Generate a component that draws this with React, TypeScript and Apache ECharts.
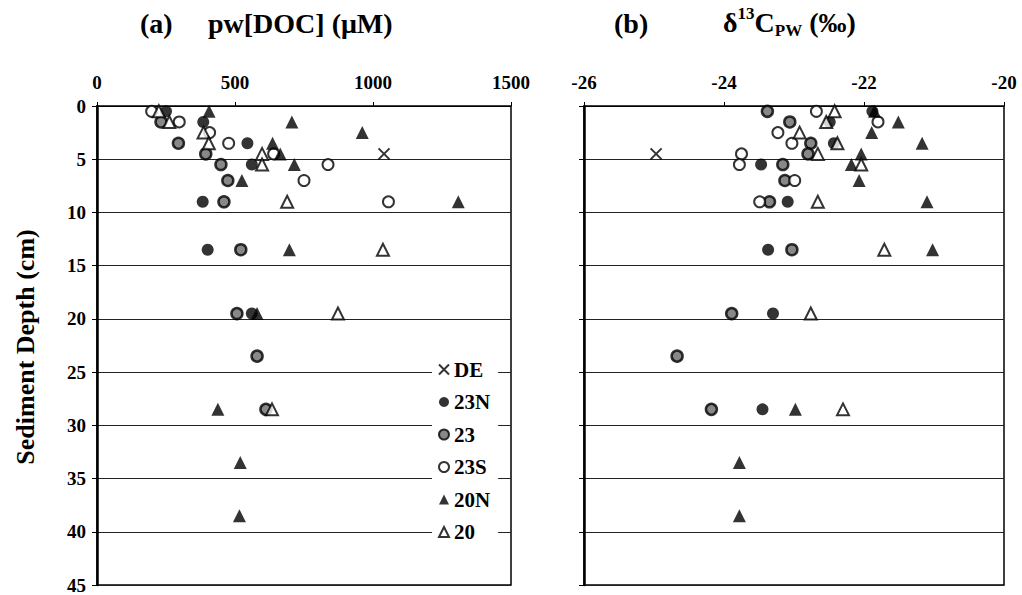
import React, { useEffect, useRef } from "react";
import * as echarts from "echarts";

// ---------- data ----------
const seriesNames = ["DE", "23N", "23", "23S", "20N", "20"];

// panel (a): pw[DOC] (µM) vs depth (cm)
const docDE = [[1040, 4.5]];
const doc23N = [[250, 0.5], [385, 1.5], [545, 3.5], [561, 5.5], [383, 9], [401, 13.5], [561, 19.5]];
const doc23 = [[232, 1.5], [295, 3.5], [394, 4.5], [449, 5.5], [474, 7], [460, 9], [521, 13.5], [507, 19.5], [580, 23.5], [612, 28.5]];
const doc23S = [[198, 0.5], [298, 1.5], [408, 2.5], [477, 3.5], [640, 4.5], [837, 5.5], [750, 7], [1056, 9]];
const doc20N = [[406, 0.5], [706, 1.5], [961, 2.5], [636, 3.5], [664, 4.5], [715, 5.5], [525, 7], [1309, 9], [697, 13.5], [580, 19.5], [438, 28.5], [519, 33.5], [516, 38.5]];
const doc20 = [[224, 0.5], [262, 1.5], [386, 2.5], [405, 3.5], [598, 4.5], [598, 5.5], [689, 9], [1036, 13.5], [873, 19.5], [634, 28.5]];

// panel (b): δ13C_PW (‰) vs depth (cm)
const d13DE = [[-24.97, 4.5]];
const d13_23N = [[-21.88, 0.5], [-22.49, 1.5], [-22.43, 3.5], [-23.47, 5.5], [-23.09, 9], [-23.37, 13.5], [-23.3, 19.5], [-23.45, 28.5]];
const d13_23 = [[-23.38, 0.5], [-23.06, 1.5], [-22.76, 3.5], [-22.8, 4.5], [-23.16, 5.5], [-23.13, 7], [-23.35, 9], [-23.03, 13.5], [-23.89, 19.5], [-24.67, 23.5], [-24.18, 28.5]];
const d13_23S = [[-22.68, 0.5], [-21.8, 1.5], [-23.23, 2.5], [-23.03, 3.5], [-23.75, 4.5], [-23.78, 5.5], [-22.99, 7], [-23.49, 9]];
const d13_20N = [[-21.85, 0.5], [-21.51, 1.5], [-21.89, 2.5], [-21.17, 3.5], [-22.04, 4.5], [-22.18, 5.5], [-22.07, 7], [-21.1, 9], [-21.02, 13.5], [-22.98, 28.5], [-23.78, 33.5], [-23.78, 38.5]];
const d13_20 = [[-22.42, 0.5], [-22.54, 1.5], [-22.92, 2.5], [-22.38, 3.5], [-22.66, 4.5], [-22.04, 5.5], [-22.66, 9], [-21.71, 13.5], [-22.76, 19.5], [-22.3, 28.5]];

const panelAData = [docDE, doc23N, doc23, doc23S, doc20N, doc20];
const panelBData = [d13DE, d13_23N, d13_23, d13_23S, d13_20N, d13_20];

// tick labels
const docTicks = [0, 500, 1000, 1500];
const d13Ticks = [-26, -24, -22, -20];
const depthTicks = [0, 5, 10, 15, 20, 25, 30, 35, 40, 45];

const docAxis = { min: 0, max: 1500, interval: 500 };
const d13Axis = { min: -26, max: -20, interval: 2 };
const depthAxis = { min: 0, max: 45, interval: 5 };

// ---------- styles ----------
const FONT = "Liberation Serif";

const markerStyles: Record<string, any> = {
  DE: { symbol: "path://M0,0L10,10M10,0L0,10", symbolSize: 11, itemStyle: { color: "#000", borderColor: "#000", borderWidth: 2 } },
  "23N": { symbol: "circle", symbolSize: 12, itemStyle: { color: "#000" } },
  "23": { symbol: "circle", symbolSize: 11, itemStyle: { color: "#6a6a6a", borderColor: "#000", borderWidth: 2.5 } },
  "23S": { symbol: "circle", symbolSize: 11, itemStyle: { color: "#fff", borderColor: "#000", borderWidth: 2 } },
  "20N": { symbol: "triangle", symbolSize: 13, itemStyle: { color: "#000" } },
  "20": { symbol: "triangle", symbolSize: 12, itemStyle: { color: "#fff", borderColor: "#000", borderWidth: 2 } },
};

const labelStyle = { fontFamily: FONT, fontWeight: "bold", fontSize: 19, fill: "#000" };

export default function App() {
  const ref = useRef<HTMLDivElement>(null);

  useEffect(() => {
    if (!ref.current) return;
    const chart = echarts.init(ref.current, undefined, { renderer: "svg" });

    const xAxisCommon = (idx: number, cfg: any) => ({
      type: "value",
      gridIndex: idx,
      position: "top",
      min: cfg.min,
      max: cfg.max,
      interval: cfg.interval,
      axisLine: { show: true, lineStyle: { color: "#000", width: 1.2 } },
      axisTick: { show: true, length: 4, lineStyle: { color: "#000" } },
      axisLabel: { show: false },
      splitLine: { show: false },
    });

    const yAxisCommon = (idx: number) => ({
      type: "value",
      gridIndex: idx,
      inverse: true,
      min: depthAxis.min,
      max: depthAxis.max,
      interval: depthAxis.interval,
      axisLine: { show: true, lineStyle: { color: "#000", width: 2.5 } },
      axisTick: { show: true, length: 5, lineStyle: { color: "#000" } },
      axisLabel: { show: false },
      splitLine: { show: true, lineStyle: { color: "#222", width: 1 } },
    });

    const makeSeries = (data: number[][][], idx: number) =>
      seriesNames.map((name, i) => ({
        type: "scatter",
        name,
        xAxisIndex: idx,
        yAxisIndex: idx,
        data: data[i],
        ...markerStyles[name],
        emphasis: { disabled: true },
      }));

    const baseGraphic: any[] = [
      { type: "text", left: 140, top: 9, style: { text: "(a)", fontFamily: FONT, fontWeight: "bold", fontSize: 28, fill: "#000" } },
      { type: "text", left: 208, top: 9, style: { text: "pw[DOC] (μM)", fontFamily: FONT, fontWeight: "bold", fontSize: 28, fill: "#000" } },
      { type: "text", left: 614, top: 9, style: { text: "(b)", fontFamily: FONT, fontWeight: "bold", fontSize: 28, fill: "#000" } },
      {
        type: "text",
        left: 723,
        top: 5,
        style: {
          text: "{m|δ}{sup|13}{m|C}{sub|PW}{m| (‰)}",
          fill: "#000",
          rich: {
            m: { fontFamily: FONT, fontWeight: "bold", fontSize: 28, lineHeight: 34, verticalAlign: "middle" },
            sup: { fontFamily: FONT, fontWeight: "bold", fontSize: 17, lineHeight: 34, verticalAlign: "top", padding: [0, 0, 14, 0] },
            sub: { fontFamily: FONT, fontWeight: "bold", fontSize: 17, lineHeight: 34, verticalAlign: "bottom", padding: [12, 0, 0, 0] },
          },
        },
      },
      {
        type: "text",
        x: 25,
        y: 347,
        rotation: Math.PI / 2,
        style: {
          text: "Sediment Depth (cm)",
          fontFamily: FONT,
          fontWeight: "bold",
          fontSize: 26,
          fill: "#000",
          align: "center",
          verticalAlign: "middle",
        },
      },
    ];

    chart.setOption({
      animation: false,
      backgroundColor: "#fff",
      textStyle: { fontFamily: FONT },
      grid: [
        { left: 97, top: 106, width: 414, height: 479, show: true, borderColor: "#000", borderWidth: 1.5, backgroundColor: "transparent" },
        { left: 584, top: 106, width: 420, height: 479, show: true, borderColor: "#000", borderWidth: 1.5, backgroundColor: "transparent" },
      ],
      xAxis: [xAxisCommon(0, docAxis), xAxisCommon(1, d13Axis)],
      yAxis: [yAxisCommon(0), yAxisCommon(1)],
      legend: {
        show: true,
        orient: "vertical",
        left: 432,
        top: 353,
        padding: [6, 8, 6, 6],
        backgroundColor: "#fff",
        itemWidth: 10,
        itemHeight: 10,
        itemGap: 11.5,
        selectedMode: false,
        data: seriesNames,
        textStyle: { fontFamily: FONT, fontWeight: "bold", fontSize: 21, color: "#000" },
      },
      graphic: baseGraphic,
      series: [...makeSeries(panelAData, 0), ...makeSeries(panelBData, 1)],
    });

    // tick labels placed through the axes' own scales
    const tickTexts: any[] = [];
    docTicks.forEach((v) => {
      const p = chart.convertToPixel({ xAxisIndex: 0, yAxisIndex: 0 }, [v, depthAxis.min]) as number[];
      tickTexts.push({ type: "text", x: p[0], y: p[1] - 24, style: { ...labelStyle, text: String(v), align: "center", verticalAlign: "middle" } });
    });
    d13Ticks.forEach((v) => {
      const p = chart.convertToPixel({ xAxisIndex: 1, yAxisIndex: 1 }, [v, depthAxis.min]) as number[];
      tickTexts.push({ type: "text", x: p[0], y: p[1] - 24, style: { ...labelStyle, text: String(v), align: "center", verticalAlign: "middle" } });
    });
    depthTicks.forEach((v) => {
      const p = chart.convertToPixel({ xAxisIndex: 0, yAxisIndex: 0 }, [docAxis.min, v]) as number[];
      tickTexts.push({ type: "text", x: p[0] - 11, y: p[1], style: { ...labelStyle, text: String(v), align: "right", verticalAlign: "middle" } });
    });
    chart.setOption({ graphic: [...baseGraphic, ...tickTexts] });

    return () => chart.dispose();
  }, []);

  return (
    <div
      ref={ref}
      style={{ position: "fixed", left: 0, top: 0, width: 1022, height: 595, background: "#fff" }}
    />
  );
}
